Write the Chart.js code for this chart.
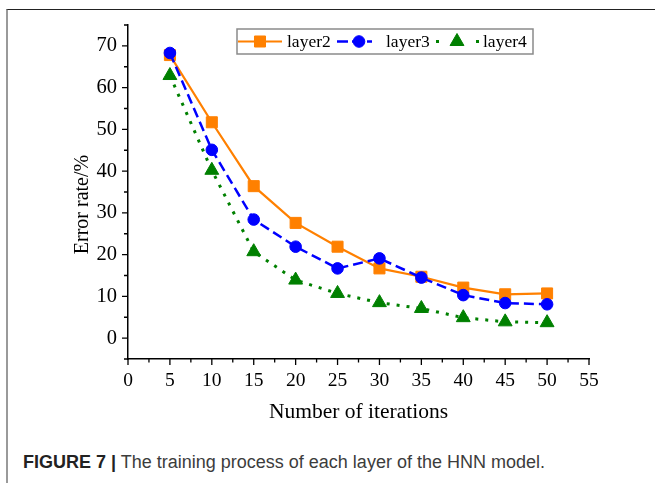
<!DOCTYPE html>
<html><head><meta charset="utf-8">
<script src="https://cdn.jsdelivr.net/npm/chart.js@4"></script>
<style>
html,body{margin:0;padding:0;background:#fff;width:655px;height:483px;overflow:hidden;}
#frame{position:absolute;left:6px;top:9px;width:649px;height:474px;border-top:1px solid #222;border-left:2px solid #9a9a9a;box-sizing:border-box;}
#c{position:absolute;left:0;top:0;}
#cap{position:absolute;left:23px;top:453px;font:18px/18px "Liberation Sans",Arial,sans-serif;color:#3c3c3c;white-space:nowrap;}
#cap b{color:#222;}
</style></head><body>
<div id="frame"></div>
<canvas id="c" width="655" height="440"></canvas>
<div id="cap"><b>FIGURE 7 |</b> The training process of each layer of the HNN model.</div>
<script>
const iterations = [5, 10, 15, 20, 25, 30, 35, 40, 45, 50];
const layer2 = [67.8, 51.7, 36.4, 27.6, 21.9, 16.7, 14.7, 12.1, 10.5, 10.7];
const layer3 = [68.3, 45.1, 28.4, 21.9, 16.7, 19.1, 14.5, 10.3, 8.4, 8.1];
const layer4 = [62.9, 40.2, 20.7, 13.9, 10.7, 8.5, 7.1, 4.9, 3.9, 3.7];
const seriesNames = ['layer2', 'layer3', 'layer4'];
const xTitle = 'Number of iterations';
const yTitle = 'Error rate/%';

const ORANGE = '#ff8000', BLUE = '#0000ff', GREEN = '#008000';
const SERIF = '"Liberation Serif", "Times New Roman", serif';

function pts(vals){ return iterations.map((x,i)=>({x:x, y:vals[i]})); }

const tickPlugin = {
  id: 'customTicks',
  afterDraw(chart){
    const ctx = chart.ctx, xs = chart.scales.x, ys = chart.scales.y, a = chart.chartArea;
    ctx.save();
    ctx.strokeStyle = '#000';
    ctx.lineWidth = 1.3;
    ctx.beginPath();
    xs.ticks.forEach(t=>{
      const px = xs.getPixelForValue(t.value);
      const major = Math.abs(t.value % 5) < 1e-6;
      ctx.moveTo(px, a.bottom);
      ctx.lineTo(px, a.bottom + (major ? 6 : 3.5));
    });
    ys.ticks.forEach(t=>{
      const py = ys.getPixelForValue(t.value);
      const major = Math.abs(t.value % 10) < 1e-6;
      ctx.moveTo(a.left, py);
      ctx.lineTo(a.left - (major ? 6 : 4), py);
    });
    ctx.stroke();
    ctx.restore();
  }
};

const legendLayout = [
  {x1:238, x2:282, mx:260, tx:287, dash:[]},
  {x1:337, x2:372, mx:359, tx:386, dash:[11,4]},
  {x1:436, x2:480, mx:457, tx:483, dash:[3,37]}
];
const legendPlugin = {
  id: 'boxLegend',
  afterDraw(chart){
    const ctx = chart.ctx;
    const bx = 237, by = 29, bw = 296, bh = 25, cy = by + bh/2;
    ctx.save();
    ctx.fillStyle = '#fff';
    ctx.fillRect(bx, by, bw, bh);
    ctx.strokeStyle = '#8a8a8a';
    ctx.lineWidth = 1.5;
    ctx.strokeRect(bx, by, bw, bh);
    chart.data.datasets.forEach((ds, i)=>{
      const L = legendLayout[i];
      ctx.save();
      ctx.strokeStyle = ds.borderColor;
      ctx.lineWidth = ds.borderWidth;
      ctx.setLineDash(L.dash);
      ctx.beginPath();
      ctx.moveTo(L.x1, cy); ctx.lineTo(L.x2, cy);
      ctx.stroke();
      ctx.restore();
      ctx.save();
      ctx.fillStyle = ds.pointBackgroundColor;
      ctx.strokeStyle = ds.pointBorderColor;
      ctx.lineWidth = 1;
      Chart.helpers.drawPoint(ctx, {pointStyle: ds.pointStyle, radius: ds.pointRadius, rotation: 0, borderWidth: 1}, L.mx, cy);
      ctx.restore();
      ctx.fillStyle = '#000';
      ctx.font = '17.5px ' + SERIF;
      ctx.textBaseline = 'middle';
      ctx.textAlign = 'left';
      ctx.fillText(ds.label, L.tx, cy + 1);
    });
    ctx.restore();
  }
};

new Chart(document.getElementById('c'), {
  type: 'line',
  data: {
    datasets: [
      {label: seriesNames[0], data: pts(layer2), borderColor: ORANGE, backgroundColor: ORANGE,
       pointBackgroundColor: ORANGE, pointBorderColor: ORANGE, borderWidth: 2.2, pointStyle: 'rect', pointRadius: 7.8, pointBorderWidth: 1, order: 3},
      {label: seriesNames[1], data: pts(layer3), borderColor: BLUE, backgroundColor: BLUE,
       pointBackgroundColor: BLUE, pointBorderColor: BLUE, borderWidth: 2.5, borderDash: [10,5], pointStyle: 'circle', pointRadius: 5.8, pointBorderWidth: 1, order: 2},
      {label: seriesNames[2], data: pts(layer4), borderColor: GREEN, backgroundColor: GREEN,
       pointBackgroundColor: GREEN, pointBorderColor: GREEN, borderWidth: 3, borderDash: [3,7], pointStyle: 'triangle', pointRadius: 8, pointBorderWidth: 1, order: 1}
    ]
  },
  options: {
    responsive: false,
    animation: false,
    events: [],
    layout: {padding: {left: 67, top: 25, right: 66, bottom: 11}},
    plugins: {legend: {display: false}, tooltip: {enabled: false}},
    elements: {line: {tension: 0, fill: false}},
    scales: {
      x: {
        type: 'linear', min: 0, max: 55,
        afterFit: s => { s.height = 70; },
        border: {display: true, color: '#000', width: 1.5},
        grid: {drawOnChartArea: false, drawTicks: true, tickLength: 6, color: 'rgba(0,0,0,0)'},
        ticks: {stepSize: 2.5, autoSkip: false, maxRotation: 0, padding: 4, color: '#000',
          font: {family: SERIF, size: 19.5},
          callback: v => (Math.abs(v % 5) < 1e-6 ? String(v) : '')},
        title: {display: true, text: xTitle, color: '#000', font: {family: SERIF, size: 21.5}, padding: {top: 4, bottom: 4}}
      },
      y: {
        type: 'linear', min: -5, max: 75,
        afterFit: s => { s.width = 61; },
        border: {display: true, color: '#000', width: 1.5},
        grid: {drawOnChartArea: false, drawTicks: true, tickLength: 6, color: 'rgba(0,0,0,0)'},
        ticks: {stepSize: 5, autoSkip: false, padding: 5, color: '#000',
          font: {family: SERIF, size: 20.5},
          callback: v => (v >= 0 && v <= 70 && Math.abs(v % 10) < 1e-6 ? String(v) : '')},
        title: {display: true, text: yTitle + '\u00a0\u00a0\u00a0\u00a0\u00a0', color: '#000', font: {family: SERIF, size: 20}, padding: {top: 4, bottom: 4}}
      }
    }
  },
  plugins: [tickPlugin, legendPlugin]
});
</script>
</body></html>
